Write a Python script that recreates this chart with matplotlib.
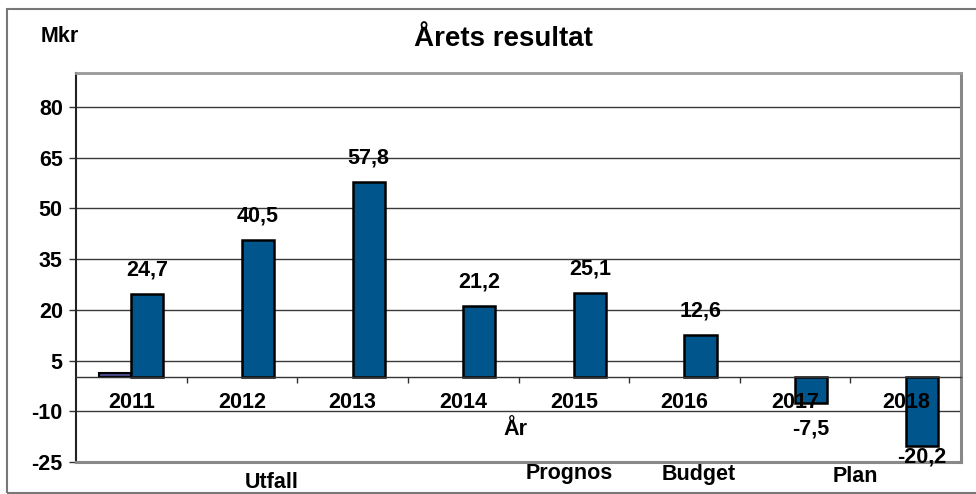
import numpy as np
import matplotlib
matplotlib.use('Agg')
import matplotlib.pyplot as plt
from matplotlib.patches import Rectangle

plt.rcParams['font.family'] = ['Liberation Sans', 'DejaVu Sans']
plt.rcParams['font.weight'] = 'bold'

# data
years = ['2011', '2012', '2013', '2014', '2015', '2016', '2017', '2018']
resultat = [24.7, 40.5, 57.8, 21.2, 25.1, 12.6, -7.5, -20.2]
small_series = [1.2, np.nan, np.nan, np.nan, np.nan, np.nan, np.nan, np.nan]
yticks = [-25, -10, 5, 20, 35, 50, 65, 80]
groups = ['Utfall', 'Prognos', 'Budget', 'Plan']

W, H = 976, 494
fig = plt.figure(figsize=(W / 100, H / 100), dpi=100)
ax = fig.add_axes([76 / W, 1 - 462 / H, (961 - 76) / W, (462 - 73) / H])

x = np.arange(len(years))
bw = 0.29
ax.bar(x - bw, small_series, width=bw, align='edge', color='#4B4B8F',
       edgecolor='black', linewidth=1.5, zorder=3)
ax.bar(x, resultat, width=bw, align='edge', color='#00558C',
       edgecolor='black', linewidth=1.8, zorder=3)

fs = 15.5
for i, v in enumerate(resultat):
    lab = ('%.1f' % v).replace('.', ',')
    if v >= 0:
        ly = v + 7.1
    else:
        ly = max(v - 7.7, -23.5)
    ax.text(i + bw / 2, ly, lab, ha='center', va='center', fontsize=fs,
            fontweight='bold', zorder=6)

for i, yr in enumerate(years):
    ax.text(i, -7.5, yr, ha='center', va='center', fontsize=fs,
            fontweight='bold', zorder=6)

ax.set_xlim(-0.5, 7.5)
ax.set_ylim(-25, 90)
ax.set_yticks(yticks)
ax.set_yticklabels([str(t) for t in yticks], fontsize=fs, fontweight='bold')
ax.tick_params(axis='y', length=5, width=1, pad=4.5, color='#333333')
for t in yticks[1:]:
    ax.axhline(t, color='#3a3a3a', linewidth=1.0, zorder=1)

# category axis at zero
ax.spines['bottom'].set_position(('data', 0))
ax.spines['bottom'].set_color('#333333')
ax.spines['bottom'].set_linewidth(1.0)
ax.spines['bottom'].set_zorder(4)
ax.set_xticks(np.arange(0.5, 8, 1))
ax.set_xticklabels([])
ax.tick_params(axis='x', length=4, width=1, direction='out', color='#333333')
ax.axhline(-25, color='#888888', linewidth=2.2, zorder=4, clip_on=False)

ax.spines['left'].set_color('#222222')
ax.spines['left'].set_linewidth(1.5)
ax.spines['top'].set_color('#999999')
ax.spines['top'].set_linewidth(2)
ax.spines['right'].set_color('#888888')
ax.spines['right'].set_linewidth(2.2)

# texts
fig.text(503 / W, 1 - 39 / H, 'Årets resultat', ha='center', va='center',
         fontsize=20, fontweight='bold')
fig.text(60 / W, 1 - 36 / H, 'Mkr', ha='center', va='center',
         fontsize=fs, fontweight='bold')
fig.text(515 / W, 1 - 429 / H, 'År', ha='center', va='center',
         fontsize=fs, fontweight='bold')
gpos = [(272, 482), (569, 473), (699, 474), (855, 476)]
for g, (gx, gy) in zip(groups, gpos):
    fig.text(gx / W, 1 - gy / H, g, ha='center', va='center',
             fontsize=fs, fontweight='bold')

# outer frame
fig.patches.append(Rectangle((7 / W, 1.5 / H), 1.0, 1 - 10.5 / H,
                             transform=fig.transFigure, fill=False,
                             edgecolor='#777777', linewidth=1.5))

fig.savefig('out.png', dpi=100)
